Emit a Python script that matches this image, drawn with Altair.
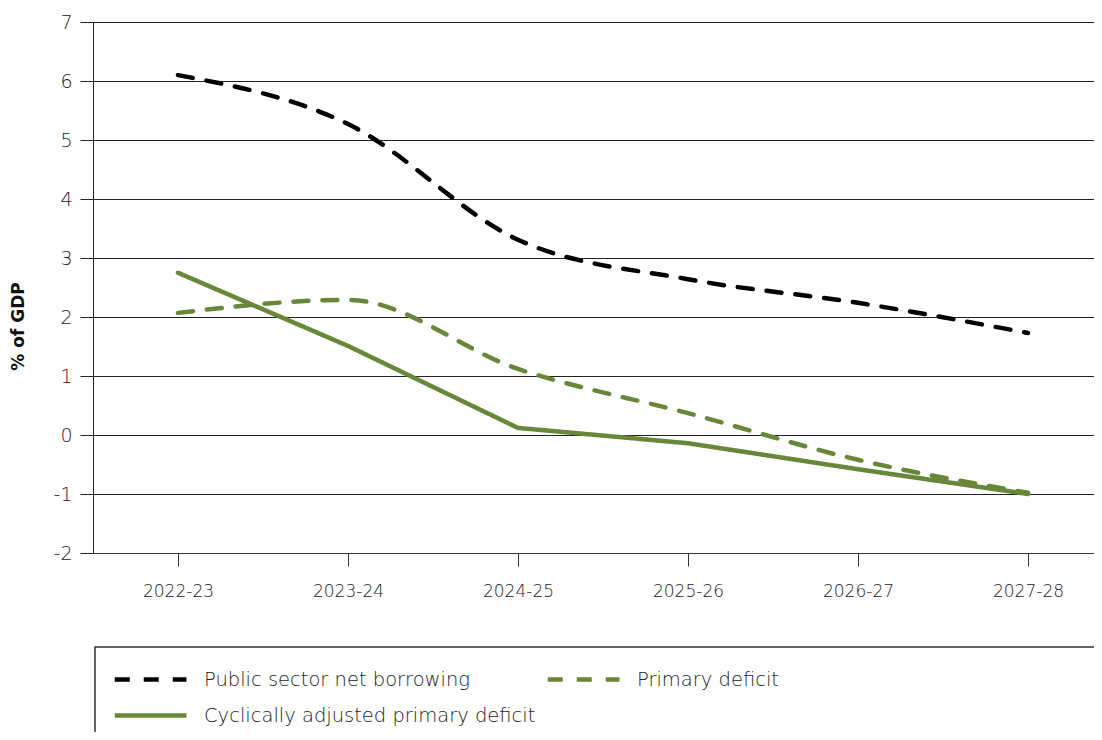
import altair as alt
import pandas as pd

years = ["2022-23", "2023-24", "2024-25", "2025-26", "2026-27", "2027-28"]
psnb = [6.10, 5.27, 3.31, 2.64, 2.24, 1.73]
primary = [2.07, 2.29, 1.12, 0.37, -0.42, -0.98]
capd = [2.75, 1.51, 0.12, -0.14, -0.58, -1.00]

# legend is laid out column by column, so this order gives
# row 1: PSNB | Primary deficit, row 2: CAPD
series_names = ["Public sector net borrowing", "Cyclically adjusted primary deficit", "Primary deficit"]
series_values = [psnb, capd, primary]
series_colors = ["#000000", "#688739", "#688739"]
series_dash = [[15, 14], [1, 0], [15, 14]]

rows = []
for name, vals in zip(series_names, series_values):
    for y, v in zip(years, vals):
        rows.append({"year": y, "value": v, "series": name})
df = pd.DataFrame(rows)

FONT = "DejaVu Sans"

x_enc = alt.X("year:O", sort=years, scale=alt.Scale(type="point", range=[0, 1020], padding=0.5),
              axis=alt.Axis(title=None, labelAngle=0, labelFontSize=17, labelColor="#222",
                            labelPadding=17, tickSize=13, tickColor="#333", domainColor="#333",
                            grid=False, labelFont=FONT, labelFontWeight=300))
y_enc = alt.Y("value:Q", scale=alt.Scale(domain=[-2, 7], nice=False, zero=False),
              axis=alt.Axis(title="% of GDP", values=list(range(-2, 8)), labelOverlap=False,
                            labelExpr="'' + datum.value",
                            labelFontSize=19, labelColor="#222", labelPadding=8,
                            tickSize=13, tickColor="#222", domainColor="#222",
                            gridColor="#222", gridWidth=1, labelFont=FONT, labelFontWeight=300,
                            titleFont=FONT, titleFontSize=17, titleFontWeight="bold",
                            titleColor="#111", titleX=-75, titleY=304, titleAngle=-90,
                            titleAlign="center", titleBaseline="middle"))
legend = alt.Legend(title=None, orient="none", legendX=17, legendY=640,
                    columns=2, columnPadding=2, rowPadding=9,
                    symbolType="M-0.85,0L3.93,0", symbolSize=900,
                    symbolStrokeWidth=4.5, labelFontSize=19.5,
                    labelFont=FONT, labelFontWeight=300, labelColor="#222",
                    labelOffset=59, padding=0, labelLimit=500)
color_enc = alt.Color("series:N",
                      scale=alt.Scale(domain=series_names, range=series_colors),
                      legend=legend)
dash_enc = alt.StrokeDash("series:N",
                          scale=alt.Scale(domain=series_names, range=series_dash),
                          legend=legend)

base = alt.Chart(df).encode(x=x_enc, y=y_enc, color=color_enc, strokeDash=dash_enc)

dashed = base.mark_line(strokeWidth=4.5, strokeCap="round", interpolate="monotone").transform_filter(
    alt.FieldOneOfPredicate(field="series", oneOf=[series_names[0], series_names[2]]))
solid = base.mark_line(strokeWidth=4.5, strokeCap="round").transform_filter(
    alt.FieldEqualPredicate(field="series", equal=series_names[1]))

frame = alt.Chart(pd.DataFrame({"k": [0]})).mark_rect(fillOpacity=0, stroke="#333", strokeWidth=1.5).encode(
    x=alt.value(2), x2=alt.value(1120), y=alt.value(625), y2=alt.value(800))

chart = alt.layer(dashed, solid, frame).properties(
    width=1001, height=531,
    autosize=alt.AutoSizeParams(type="none"),
    padding={"left": 85, "top": 14, "right": 0, "bottom": 179},
).configure_view(stroke=None).configure(background="white")

chart.save("out.html", embed_options={"renderer": "svg", "actions": False})
